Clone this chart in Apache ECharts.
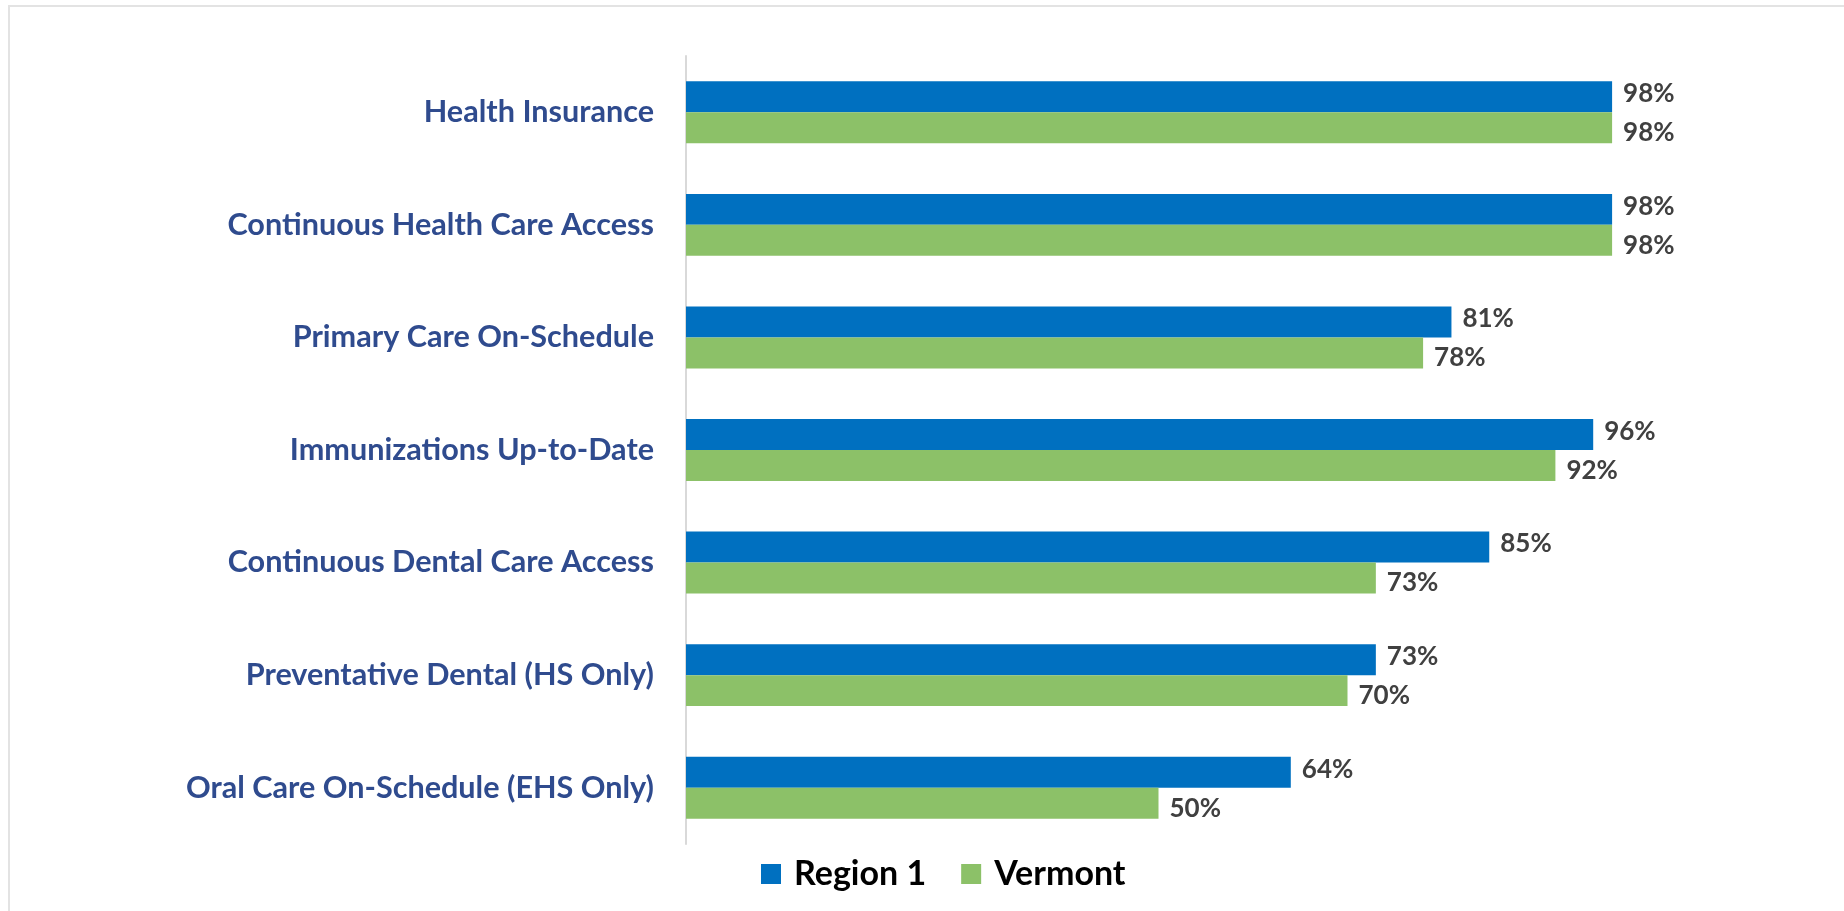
<!DOCTYPE html>
<html>
<head>
<meta charset="utf-8">
<title>Health Indicators</title>
<script src="https://cdn.jsdelivr.net/npm/echarts@6/dist/echarts.min.js"></script>
<style>
  html, body { margin: 0; padding: 0; background: #fff; }
  #chart { width: 1844px; height: 911px; }
</style>
</head>
<body>
<div id="chart"></div>
<script>
// 数据
var categories = [
  "Health Insurance",
  "Continuous Health Care Access",
  "Primary Care On-Schedule",
  "Immunizations Up-to-Date",
  "Continuous Dental Care Access",
  "Preventative Dental (HS Only)",
  "Oral Care On-Schedule (EHS Only)"
];
var region1 = [98, 98, 81, 96, 85, 73, 64];
var vermont = [98, 98, 78, 92, 73, 70, 50];
var seriesNames = ["Region 1", "Vermont"];

var myChart = echarts.init(document.getElementById("chart"));

// 数据标签 (上下两根柱子的标签稍微错开)
function labelStyle(dy) {
  return {
    show: true,
    position: "right",
    distance: 11,
    offset: [0, dy],
    formatter: "{c}%",
    fontFamily: "Lato",
    fontWeight: "bold",
    fontSize: 26,
    color: "#404040"
  };
}

myChart.setOption({
  animation: false,
  color: ["#0070C0", "#8CC168"],
  // 外框
  graphic: [
    {
      type: "rect",
      silent: true,
      shape: { x: 9, y: 6, width: 1900, height: 1000 },
      style: { fill: "none", stroke: "#E3E3E3", lineWidth: 2 }
    }
  ],
  legend: {
    data: seriesNames,
    left: 756,
    top: 852,
    itemWidth: 20,
    itemHeight: 20,
    itemGap: 35,
    icon: "rect",
    textStyle: {
      fontFamily: "Lato",
      fontWeight: "bold",
      fontSize: 34,
      color: "#000",
      padding: [0, 0, 0, 8]
    }
  },
  grid: {
    left: 686,
    right: 213,
    top: 56,
    bottom: 67,
    containLabel: false
  },
  xAxis: {
    type: "value",
    min: 0,
    max: 100,
    show: false,
    splitLine: { show: false }
  },
  yAxis: {
    type: "category",
    data: categories,
    inverse: true,
    axisTick: { show: false },
    axisLine: { lineStyle: { color: "#D9D9D9", width: 2 } },
    axisLabel: {
      margin: 32,
      fontFamily: "Lato",
      fontWeight: "bold",
      fontSize: 30.6,
      color: "#2F4B8E"
    }
  },
  series: [
    {
      name: seriesNames[0],
      type: "bar",
      data: region1,
      barGap: "0%",
      barCategoryGap: "45%",
      label: labelStyle(-3)
    },
    {
      name: seriesNames[1],
      type: "bar",
      data: vermont,
      label: labelStyle(5)
    }
  ]
});
</script>
</body>
</html>
